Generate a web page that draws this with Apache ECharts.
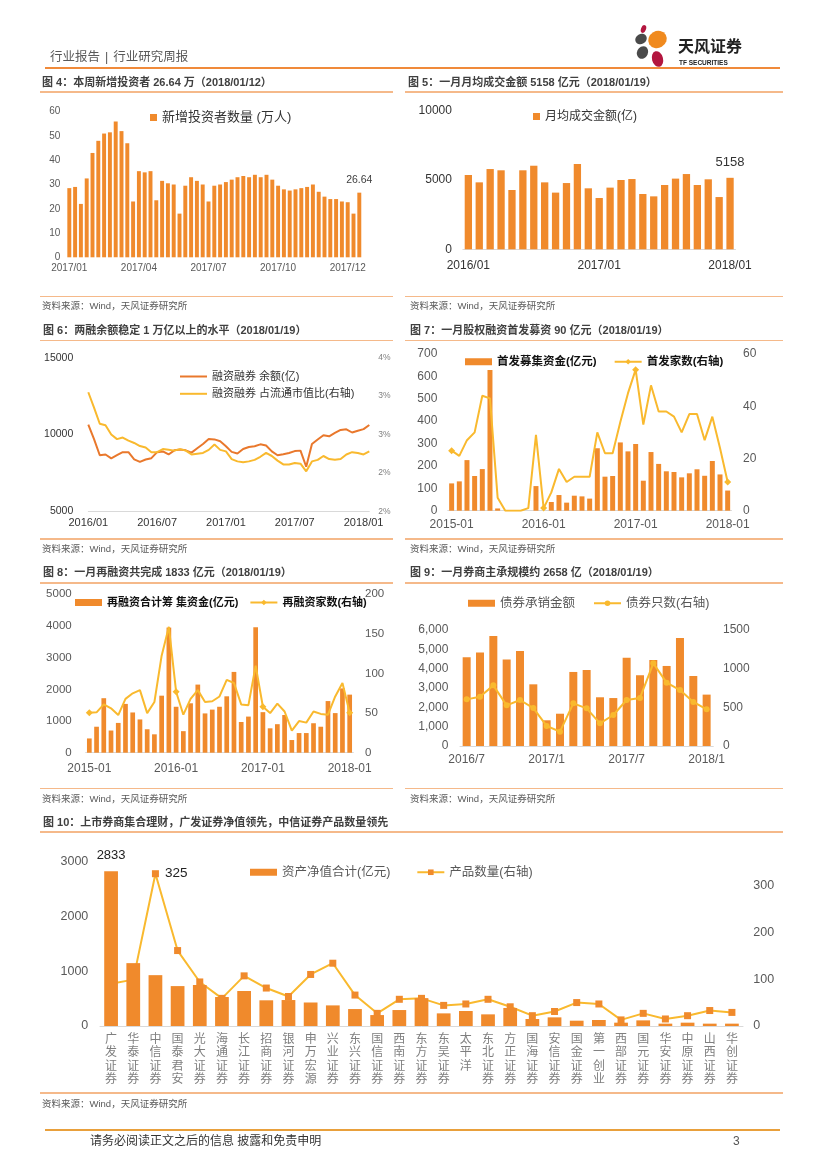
<!DOCTYPE html>
<html>
<head>
<meta charset="utf-8">
<script src="https://cdn.jsdelivr.net/npm/echarts@6/dist/echarts.min.js"></script>
<style>
html,body{margin:0;padding:0;background:#fff;}
#page{position:relative;width:827px;height:1169px;overflow:hidden;font-family:"Liberation Sans","Noto Sans CJK SC",sans-serif;}
#chart{position:absolute;left:0;top:0;width:827px;height:1169px;}
.t{position:absolute;white-space:nowrap;line-height:1;transform:translateY(-50%);}
.ttl{font-size:11px;font-weight:bold;color:#404040;}
.src{font-size:9.5px;color:#595959;}
.ln{position:absolute;height:1.5px;background:#F5B98A;}
.dot{position:absolute;border-radius:50%;}
</style>
</head>
<body>
<div id="page">
<div id="chart"></div>

<div class="t" style="left:50px;top:57px;font-size:12.5px;color:#595959;">行业报告<span style="padding:0 5px;">|</span>行业研究周报</div>
<div class="dot" style="left:641px;top:25px;width:5px;height:8px;background:#B3163F;transform:rotate(20deg);"></div>
<div class="dot" style="left:635px;top:34px;width:12px;height:10px;background:#4A4A4A;transform:rotate(-30deg);"></div>
<div class="dot" style="left:648px;top:31px;width:19px;height:17px;background:#F08A1E;transform:rotate(-30deg);"></div>
<div class="dot" style="left:637px;top:46px;width:11px;height:13px;background:#4A4A4A;transform:rotate(25deg);"></div>
<div class="dot" style="left:652px;top:51px;width:11px;height:16px;background:#B3163F;transform:rotate(-15deg);"></div>
<div class="t" style="left:678px;top:47px;font-size:16px;font-weight:bold;color:#222;">天风证券</div>
<div class="t" style="left:679px;top:63px;font-size:6.5px;font-weight:bold;color:#222;">TF SECURITIES</div>
<div style="position:absolute;left:45px;top:67px;width:735px;height:2px;background:#F08A3A;"></div>

<div class="t ttl" style="left:42px;top:82px;">图 4：本周新增投资者 26.64 万（2018/01/12）</div>
<div class="t ttl" style="left:408px;top:82px;">图 5：一月月均成交金额 5158 亿元（2018/01/19）</div>
<div class="ln" style="left:40px;top:91px;width:353px;"></div>
<div class="ln" style="left:405px;top:91px;width:378px;"></div>
<div class="ln" style="left:40px;top:295.5px;width:353px;"></div>
<div class="ln" style="left:405px;top:295.5px;width:378px;"></div>
<div class="t src" style="left:42px;top:306px;">资料来源：Wind，天风证券研究所</div>
<div class="t src" style="left:410px;top:306px;">资料来源：Wind，天风证券研究所</div>

<div class="t ttl" style="left:43px;top:330px;">图 6：两融余额稳定 1 万亿以上的水平（2018/01/19）</div>
<div class="t ttl" style="left:410px;top:330px;">图 7：一月股权融资首发募资 90 亿元（2018/01/19）</div>
<div class="ln" style="left:40px;top:339.5px;width:353px;"></div>
<div class="ln" style="left:405px;top:339.5px;width:378px;"></div>
<div class="ln" style="left:40px;top:538px;width:353px;"></div>
<div class="ln" style="left:405px;top:538px;width:378px;"></div>
<div class="t src" style="left:42px;top:548.5px;">资料来源：Wind，天风证券研究所</div>
<div class="t src" style="left:410px;top:548.5px;">资料来源：Wind，天风证券研究所</div>

<div class="t ttl" style="left:43px;top:571.5px;">图 8：一月再融资共完成 1833 亿元（2018/01/19）</div>
<div class="t ttl" style="left:410px;top:571.5px;">图 9：一月券商主承规模约 2658 亿（2018/01/19）</div>
<div class="ln" style="left:40px;top:582px;width:353px;"></div>
<div class="ln" style="left:405px;top:582px;width:378px;"></div>
<div class="ln" style="left:40px;top:787.5px;width:353px;"></div>
<div class="ln" style="left:405px;top:787.5px;width:378px;"></div>
<div class="t src" style="left:42px;top:799px;">资料来源：Wind，天风证券研究所</div>
<div class="t src" style="left:410px;top:799px;">资料来源：Wind，天风证券研究所</div>

<div class="t ttl" style="left:43px;top:821.5px;">图 10：上市券商集合理财，广发证券净值领先，中信证券产品数量领先</div>
<div class="ln" style="left:40px;top:831px;width:743px;"></div>
<div class="ln" style="left:40px;top:1092px;width:743px;"></div>
<div class="t src" style="left:42px;top:1104px;">资料来源：Wind，天风证券研究所</div>

<div style="position:absolute;left:45px;top:1129px;width:735px;height:2px;background:#E9A03B;"></div>
<div class="t" style="left:90px;top:1141px;font-size:12px;color:#333;">请务必阅读正文之后的信息 披露和免责申明</div>
<div class="t" style="left:733px;top:1141px;font-size:12px;color:#555;">3</div>
</div>

<script>
// ---------- Figure 4: weekly new investors (万人) ----------
const weeks4 = ['2017/01/13','2017/01/20','2017/02/03','2017/02/10','2017/02/17','2017/02/24','2017/03/03','2017/03/10','2017/03/17','2017/03/24','2017/03/31','2017/04/07','2017/04/14','2017/04/21','2017/04/28','2017/05/05','2017/05/12','2017/05/19','2017/05/26','2017/06/02','2017/06/09','2017/06/16','2017/06/23','2017/06/30','2017/07/07','2017/07/14','2017/07/21','2017/07/28','2017/08/04','2017/08/11','2017/08/18','2017/08/25','2017/09/01','2017/09/08','2017/09/15','2017/09/22','2017/09/29','2017/10/13','2017/10/20','2017/10/27','2017/11/03','2017/11/10','2017/11/17','2017/11/24','2017/12/01','2017/12/08','2017/12/15','2017/12/22','2017/12/29','2018/01/05','2018/01/12'];
const ticks4 = ['2017/01','2017/04','2017/07','2017/10','2017/12'];
const investors4 = [28.5,29,22,32.5,43,48,51,51.5,56,52,47,23,35.5,35,35.5,23.5,31.5,30.5,30,18,29.5,33,31.5,30,23,29.5,30,31,32,33,33.5,33,34,33,34,32,29.5,28,27.5,28,28.5,29,30,27,25,24,24,23,22.7,18,26.64];

// ---------- Figure 5: monthly average turnover (亿) ----------
const months5 = ['2016/01','2016/02','2016/03','2016/04','2016/05','2016/06','2016/07','2016/08','2016/09','2016/10','2016/11','2016/12','2017/01','2017/02','2017/03','2017/04','2017/05','2017/06','2017/07','2017/08','2017/09','2017/10','2017/11','2017/12','2018/01'];
const turnover5 = [5360,4830,5790,5700,4280,5700,6030,4830,4090,4780,6150,4400,3700,4450,5000,5070,3990,3820,4640,5100,5430,4640,5050,3770,5158];

// ---------- Figure 6: margin balance & ratio ----------
const dates6 = ['2016/01/04','2016/01/16','2016/02/01','2016/02/16','2016/03/01','2016/03/16','2016/04/01','2016/04/16','2016/05/01','2016/05/16','2016/06/01','2016/06/16','2016/07/01','2016/07/16','2016/08/01','2016/08/16','2016/09/01','2016/09/16','2016/10/01','2016/10/16','2016/11/01','2016/11/16','2016/12/01','2016/12/16','2017/01/01','2017/01/16','2017/02/01','2017/02/16','2017/03/01','2017/03/16','2017/04/01','2017/04/16','2017/05/01','2017/05/16','2017/06/01','2017/06/16','2017/07/01','2017/07/16','2017/08/01','2017/08/16','2017/09/01','2017/09/16','2017/10/01','2017/10/16','2017/11/01','2017/11/16','2017/12/01','2017/12/16','2018/01/01','2018/01/19'];
const margin6 = [10650,9700,8650,8700,8450,8650,8850,8850,8380,8220,8370,8460,8850,8900,8700,8970,9020,8970,8820,9100,9380,9700,9680,9560,9240,8870,8760,9060,9190,9240,9360,9280,8900,8650,8720,8800,8920,8950,7900,9380,9670,9950,9880,10100,10300,10340,10130,10240,10350,10620];
const ratio6 = [3.05,2.85,2.64,2.62,2.50,2.44,2.46,2.42,2.39,2.35,2.33,2.27,2.27,2.31,2.30,2.29,2.31,2.29,2.24,2.25,2.26,2.30,2.37,2.30,2.28,2.18,2.15,2.14,2.15,2.17,2.21,2.26,2.22,2.16,2.11,2.11,2.13,2.12,2.02,2.15,2.17,2.22,2.18,2.17,2.18,2.24,2.27,2.26,2.24,2.28];

// ---------- Figure 7: IPO ----------
const months7 = ['2015-01','2015-02','2015-03','2015-04','2015-05','2015-06','2015-07','2015-08','2015-09','2015-10','2015-11','2015-12','2016-01','2016-02','2016-03','2016-04','2016-05','2016-06','2016-07','2016-08','2016-09','2016-10','2016-11','2016-12','2017-01','2017-02','2017-03','2017-04','2017-05','2017-06','2017-07','2017-08','2017-09','2017-10','2017-11','2017-12','2018-01'];
const ipoAmt7 = [122,131,226,155,186,629,10,0,0,0,0,110,0,39,70,36,67,64,54,279,152,155,305,265,298,134,262,209,176,173,149,167,185,156,222,162,90];
const ipoNum7 = [23,21,27,30,44,43,5,0,0,0,1,29,1,7,16,11,13,13,13,30,22,22,34,45,54,33,48,38,38,36,30,37,37,27,36,24,11];

// ---------- Figure 8: refinancing ----------
const months8 = months7.slice();
const refiAmt8 = [450,820,1720,700,940,1540,1270,1050,740,580,1800,3950,1450,680,1560,2150,1240,1360,1450,1780,2550,970,1140,3960,1280,770,900,1190,400,620,620,930,820,1630,1250,2030,1833];
const refiNum8 = [50.5,51,61,56,47.5,68,75,79,50,64,122.5,159,77,48,68,79,64,65,71,92,88,61,60,110,58,50,62,52,28,40,38,52,49,48,71,88,50.5];

// ---------- Figure 9: bond underwriting ----------
const months9 = ['2016/7','2016/8','2016/9','2016/10','2016/11','2016/12','2017/1','2017/2','2017/3','2017/4','2017/5','2017/6','2017/7','2017/8','2017/9','2017/10','2017/11','2017/12','2018/1'];
const bondAmt9 = [4590,4840,5690,4480,4910,3190,1330,1670,3830,3930,2520,2480,4570,3660,4450,4140,5590,3620,2658];
const bondNum9 = [603,638,784,526,595,491,259,185,552,487,293,401,595,621,1069,819,724,569,474];

// ---------- Figure 10: brokers' collective asset management ----------
const brokers10 = ['广发证券','华泰证券','中信证券','国泰君安','光大证券','海通证券','长江证券','招商证券','银河证券','申万宏源','兴业证券','东兴证券','国信证券','西南证券','东方证券','东吴证券','太平洋','东北证券','方正证券','国海证券','安信证券','国金证券','第一创业','西部证券','国元证券','华安证券','中原证券','山西证券','华创证券'];
const nav10 = [2833,1150,930,730,750,530,640,470,475,430,377,310,200,292,510,231,274,213,330,128,158,97,110,61,103,43,61,43,43];
const products10 = [90,99,325,161,94,59,107,81,63,110,134,66,27,57,59,44,47,57,41,22,31,50,47,13,27,15,22,33,29];

// ---------- styling ----------
const FONT = '"Liberation Sans","Noto Sans CJK SC",sans-serif';
const ORANGE = '#F08A2C', ORANGE_LINE = '#E9782C', YELLOW = '#F9B92E', AXIS = '#D9D9D9';
const plain = (v) => String(v);
const comma = (v) => String(v).replace(/\B(?=(\d{3})+(?!\d))/g, ',');

function withLabel(arr, idx, label) {
  return arr.map((v, i) => i === idx ? { value: v, label: Object.assign({ show: true, fontFamily: FONT, formatter: (p) => String(p.value) }, label) } : v);
}
function xCat(gi, data, lab, extra) {
  return Object.assign({
    type: 'category', gridIndex: gi, data: data, boundaryGap: true,
    axisTick: { show: false },
    axisLine: { show: true, lineStyle: { color: AXIS, width: 1 } },
    splitLine: { show: false },
    axisLabel: Object.assign({ fontFamily: FONT }, lab)
  }, extra || {});
}
function yVal(gi, min, max, interval, lab, extra) {
  return Object.assign({
    type: 'value', gridIndex: gi, min: min, max: max, interval: interval,
    axisLine: { show: false }, axisTick: { show: false }, splitLine: { show: false },
    axisLabel: Object.assign({ fontFamily: FONT, formatter: plain }, lab)
  }, extra || {});
}
function legend(left, top, names, text, extra) {
  return Object.assign({
    left: left, top: top, data: names, padding: 0,
    itemWidth: 27, itemHeight: 7, itemGap: 17,
    textStyle: Object.assign({ fontFamily: FONT, padding: [0, 0, 0, 0] }, text),
    selectedMode: false
  }, extra || {});
}

const chart = echarts.init(document.getElementById('chart'), null, { renderer: 'canvas' });

const option = {
  animation: false,
  backgroundColor: 'transparent',
  textStyle: { fontFamily: FONT },
  grid: [
    { left: 66.4, top: 111.7, width: 295.8, height: 145.6 },
    { left: 462.9, top: 110.7, width: 272.6, height: 138.6 },
    { left: 88.3, top: 357.7, width: 281, height: 153.6 },
    { left: 447.8, top: 354, width: 283.7, height: 156.7 },
    { left: 85.7, top: 594.3, width: 267.6, height: 158.4 },
    { left: 460, top: 630, width: 253.3, height: 116 },
    { left: 100, top: 862, width: 643, height: 164 }
  ].map(g => Object.assign({ containLabel: false, outerBoundsMode: 'none' }, g)),
  xAxis: [
    xCat(0, weeks4, { color: '#595959', fontSize: 10, margin: 6,
      interval: (i) => i % 12 === 0, formatter: (v, i) => ticks4[Math.round(i / 12)] || '' },
      { axisLine: { show: false } }),
    xCat(1, months5, { color: '#333', fontSize: 12, margin: 10, interval: 11 }),
    xCat(2, dates6, { color: '#333', fontSize: 11, margin: 6, interval: 11, formatter: (v) => v.slice(0, 7) },
      { boundaryGap: false }),
    xCat(3, months7, { color: '#595959', fontSize: 12, margin: 8, interval: 11 }),
    xCat(4, months8, { color: '#595959', fontSize: 12, margin: 10, interval: 11 }),
    xCat(5, months9, { color: '#595959', fontSize: 12, margin: 8, interval: 5 }),
    xCat(6, brokers10, { color: '#7f7f7f', fontSize: 12, lineHeight: 13.3, margin: 7, interval: 0,
      formatter: (v) => v.split('').join('\n'), verticalAlign: 'top' })
  ],
  yAxis: [
    yVal(0, 0, 60, 10, { color: '#595959', fontSize: 10, margin: 6 }),
    yVal(1, 0, 10000, 5000, { color: '#333', fontSize: 12, margin: 11 }),
    yVal(2, 5000, 15000, 5000, { color: '#333', fontSize: 10.5, margin: 15 }),
    yVal(2, 1.5, 3.5, 0.5, { color: '#7f7f7f', fontSize: 8.5, margin: 9, formatter: (v) => Math.round(v) + '%' }, { position: 'right' }),
    yVal(3, 0, 700, 100, { color: '#595959', fontSize: 12, margin: 10.5 }),
    yVal(3, 0, 60, 20, { color: '#595959', fontSize: 12, margin: 11.5 }, { position: 'right' }),
    yVal(4, 0, 5000, 1000, { color: '#595959', fontSize: 11.5, margin: 14 }),
    yVal(4, 0, 200, 50, { color: '#595959', fontSize: 11.5, margin: 11.7 }, { position: 'right' }),
    yVal(5, 0, 6000, 1000, { color: '#595959', fontSize: 12, margin: 11.7, formatter: comma }),
    yVal(5, 0, 1500, 500, { color: '#595959', fontSize: 12, margin: 9.7 }, { position: 'right' }),
    yVal(6, 0, 3000, 1000, { color: '#595959', fontSize: 12.5, margin: 11.7 }),
    yVal(6, 0, 350, 100, { color: '#595959', fontSize: 12.5, margin: 10.3, showMaxLabel: false }, { position: 'right' })
  ],
  legend: [
    legend(150, 111, ['新增投资者数量 (万人)'], { color: '#333', fontSize: 13 }, { itemWidth: 7, itemHeight: 7, icon: 'rect' }),
    legend(533, 110.5, ['月均成交金额(亿)'], { color: '#333', fontSize: 12 }, { itemWidth: 7, itemHeight: 7, icon: 'rect' }),
    legend(180, 370, [{ name: '融资融券 余额(亿)', icon: 'rect' }, { name: '融资融券 占流通市值比(右轴)', icon: 'rect' }],
      { color: '#333', fontSize: 11, lineHeight: 13 },
      { orient: 'vertical', itemGap: 4.3, itemHeight: 2 }),
    legend(465, 356, [{ name: '首发募集资金(亿元)', icon: 'rect' }, '首发家数(右轴)'],
      { color: '#111', fontSize: 11.5, fontWeight: 'bold' }, { itemGap: 17, itemHeight: 7 }),
    legend(75, 597, [{ name: '再融资合计筹 集资金(亿元)', icon: 'rect' }, '再融资家数(右轴)'],
      { color: '#111', fontSize: 11, fontWeight: 'bold' }, { itemGap: 11, itemHeight: 7 }),
    legend(468, 597, [{ name: '债券承销金额', icon: 'rect' }, '债券只数(右轴)'],
      { color: '#595959', fontSize: 12.5 }, { itemGap: 18, itemHeight: 7 }),
    legend(250, 866, [{ name: '资产净值合计(亿元)', icon: 'rect' }, '产品数量(右轴)'],
      { color: '#595959', fontSize: 12.5 }, { itemGap: 26, itemHeight: 7 })
  ],
  series: [
    { type: 'bar', name: '新增投资者数量 (万人)', xAxisIndex: 0, yAxisIndex: 0, barWidth: '68%',
      itemStyle: { color: ORANGE },
      data: withLabel(investors4, investors4.length - 1, { position: 'top', distance: 7, fontSize: 10.5, color: '#404040' }) },
    { type: 'bar', name: '月均成交金额(亿)', xAxisIndex: 1, yAxisIndex: 1, barWidth: '67%',
      itemStyle: { color: ORANGE },
      data: withLabel(turnover5, turnover5.length - 1, { position: 'top', distance: 9, fontSize: 13, color: '#333' }) },
    { type: 'line', name: '融资融券 余额(亿)', xAxisIndex: 2, yAxisIndex: 2, symbol: 'none',
      lineStyle: { color: ORANGE_LINE, width: 2 }, itemStyle: { color: ORANGE_LINE }, data: margin6 },
    { type: 'line', name: '融资融券 占流通市值比(右轴)', xAxisIndex: 2, yAxisIndex: 3, symbol: 'none',
      lineStyle: { color: YELLOW, width: 2 }, itemStyle: { color: YELLOW }, data: ratio6 },
    { type: 'bar', name: '首发募集资金(亿元)', xAxisIndex: 3, yAxisIndex: 4, barWidth: '65%',
      itemStyle: { color: ORANGE }, data: ipoAmt7 },
    { type: 'line', name: '首发家数(右轴)', xAxisIndex: 3, yAxisIndex: 5, symbol: 'diamond', symbolSize: 7,
      lineStyle: { color: YELLOW, width: 2 }, itemStyle: { color: YELLOW }, data: ipoNum7 },
    { type: 'bar', name: '再融资合计筹 集资金(亿元)', xAxisIndex: 4, yAxisIndex: 6, barWidth: '65%',
      itemStyle: { color: ORANGE }, data: refiAmt8 },
    { type: 'line', name: '再融资家数(右轴)', xAxisIndex: 4, yAxisIndex: 7, symbol: 'diamond', symbolSize: 7,
      lineStyle: { color: YELLOW, width: 2 }, itemStyle: { color: YELLOW }, data: refiNum8 },
    { type: 'bar', name: '债券承销金额', xAxisIndex: 5, yAxisIndex: 8, barWidth: '60%',
      itemStyle: { color: ORANGE }, data: bondAmt9 },
    { type: 'line', name: '债券只数(右轴)', xAxisIndex: 5, yAxisIndex: 9, symbol: 'circle', symbolSize: 6,
      lineStyle: { color: YELLOW, width: 2 }, itemStyle: { color: YELLOW }, data: bondNum9 },
    { type: 'bar', name: '资产净值合计(亿元)', xAxisIndex: 6, yAxisIndex: 10, barWidth: '62%', z: 3,
      itemStyle: { color: ORANGE },
      data: withLabel(nav10, 0, { position: 'top', distance: 9, fontSize: 13, color: '#222' }) },
    { type: 'line', name: '产品数量(右轴)', xAxisIndex: 6, yAxisIndex: 11, symbol: 'rect', symbolSize: 7, z: 2,
      lineStyle: { color: YELLOW, width: 2 }, itemStyle: { color: ORANGE },
      data: withLabel(products10, products10.indexOf(Math.max.apply(null, products10)),
        { position: 'right', distance: 6, fontSize: 13.5, color: '#222' }) }
  ]
};
chart.setOption(option);
</script>
</body>
</html>
